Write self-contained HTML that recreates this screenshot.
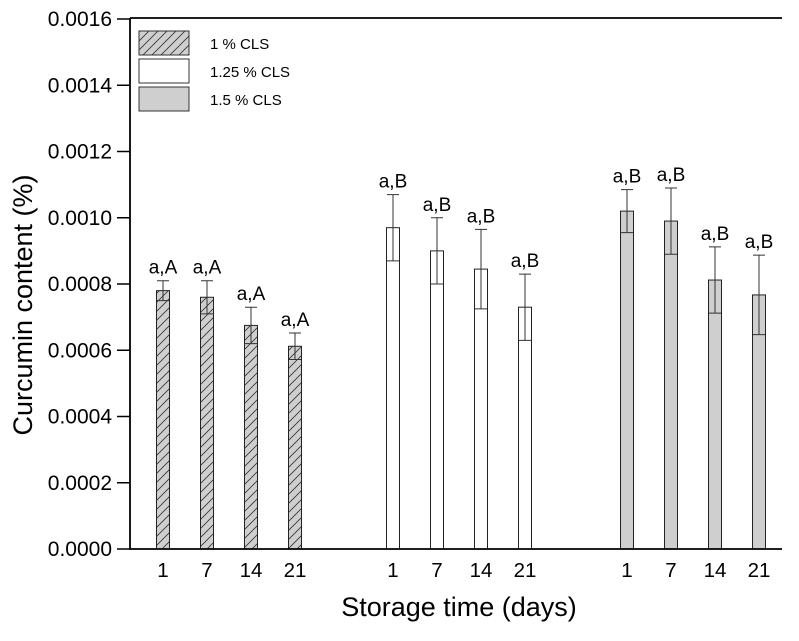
<!DOCTYPE html>
<html><head><meta charset="utf-8"><style>
body{margin:0;background:#fff}
svg{font-family:"Liberation Sans",Arial,sans-serif}
</style></head><body>
<svg id="c" width="799" height="636">
<defs><pattern id="hatch" width="9" height="9" patternUnits="userSpaceOnUse"><rect width="9" height="9" fill="#cfcfcf"/><path d="M-1,10 L10,-1 M-2,2 L2,-2 M7,11 L11,7" stroke="#333" stroke-width="0.8"/></pattern></defs>
</svg>
<script>
const days=["1","7","14","21"];
const s1=[0.00078,0.00076,0.000675,0.000612];
const e1=[0.00003,0.00005,0.000055,0.00004];
const s2=[0.00097,0.0009,0.000845,0.00073];
const e2=[0.0001,0.0001,0.00012,0.0001];
const s3=[0.00102,0.00099,0.000812,0.000767];
const e3=[0.000065,0.0001,0.0001,0.00012];
const lab1=["a,A","a,A","a,A","a,A"];
const lab2=["a,B","a,B","a,B","a,B"];
const lab3=["a,B","a,B","a,B","a,B"];
const yTicks=[0,0.0002,0.0004,0.0006,0.0008,0.001,0.0012,0.0014,0.0016];
const NS="http://www.w3.org/2000/svg",svg=document.getElementById('c');
const y=v=>549-v/0.0016*530;
const gx=[163,393,627];
const x=(g,i)=>gx[g]+i*44;
function el(t,a,txt){const e=document.createElementNS(NS,t);for(const k in a)e.setAttribute(k,a[k]);if(txt!==undefined)e.textContent=txt;svg.appendChild(e);return e;}
yTicks.forEach(v=>{
let t=el('line',{x1:117,x2:130,y1:y(v),y2:y(v),stroke:'#000','stroke-width':1.5});


let l=el('text',{x:112,y:y(v)+7,'text-anchor':'end','font-size':21},v.toFixed(4));


});
const series=[[s1,e1,lab1,'url(#hatch)'],[s2,e2,lab2,'#fff'],[s3,e3,lab3,'#cfcfcf']];
series.forEach((s,g)=>{
s[0].forEach((v,i)=>{
const cx=x(g,i);
let b=el('rect',{x:cx-6.5,y:y(v),width:13,height:549-y(v),fill:s[3],stroke:'#222','stroke-width':1});


const hi=y(v+s[1][i]),lo=y(v-s[1][i]);
let eb=el('path',{d:`M${cx},${hi}V${lo}M${cx-6},${hi}H${cx+6}M${cx-6},${lo}H${cx+6}`,stroke:'#333','stroke-width':1,fill:'none'});


let t=el('text',{x:cx,y:hi-7,'text-anchor':'middle','font-size':19},s[2][i]);


let xl=el('text',{x:cx,y:577,'text-anchor':'middle','font-size':20.5},days[i]);


});
});
</script>
<svg style="position:absolute;left:0;top:0" width="799" height="636">
<path d="M130,18V549H782M130,18H782" stroke="#000" stroke-width="1.8" fill="none"/>
<g font-family="Liberation Sans,Arial,sans-serif" font-size="15">
<rect x="139" y="31" width="50" height="24" fill="url(#hatch)" stroke="#333"/>
<text x="210" y="49">1 % CLS</text>
<rect x="139" y="59" width="50" height="24" fill="#fff" stroke="#333"/>
<text x="210" y="77">1.25 % CLS</text>
<rect x="139" y="87" width="50" height="24" fill="#cfcfcf" stroke="#333"/>
<text x="210" y="105">1.5 % CLS</text>
</g>
<text x="459" y="616" text-anchor="middle" font-size="27" font-family="Liberation Sans,Arial,sans-serif">Storage time (days)</text>
<text transform="translate(32,305) rotate(-90)" text-anchor="middle" font-size="27" font-family="Liberation Sans,Arial,sans-serif">Curcumin content (%)</text>
</svg>
</body></html>
